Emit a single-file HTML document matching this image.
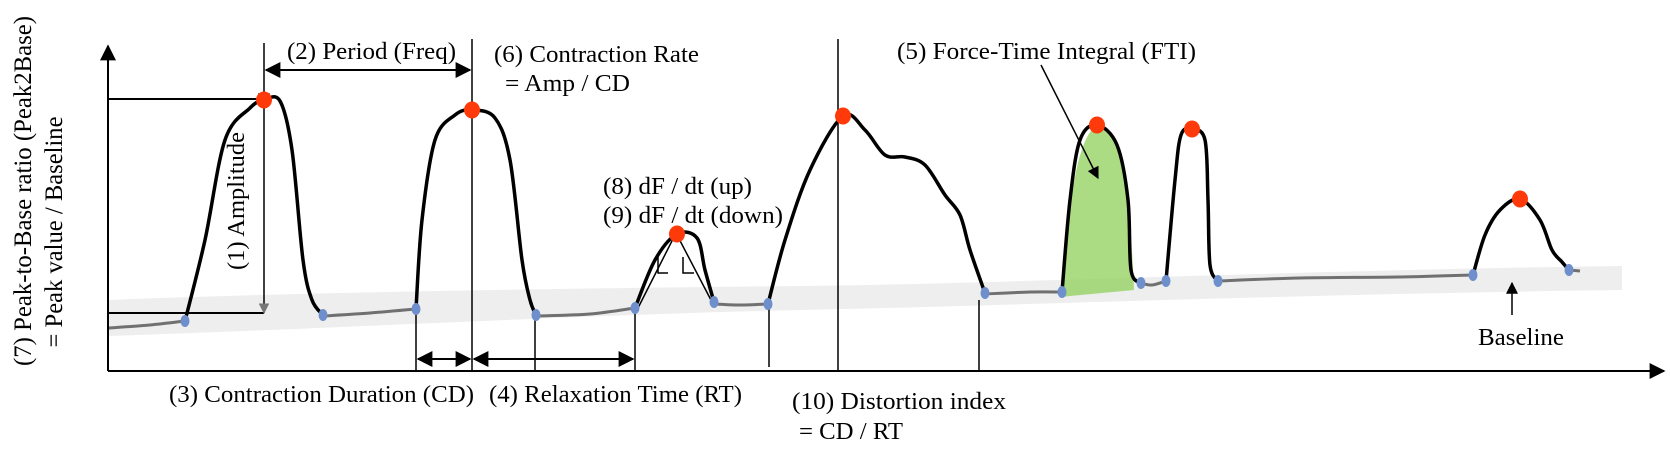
<!DOCTYPE html>
<html><head><meta charset="utf-8"><style>
html,body{margin:0;padding:0;background:#fff;}
svg{display:block;}
text{font-family:"Liberation Serif",serif;fill:#000;}
</style></head><body>
<svg id="chart" width="1670" height="460" viewBox="0 0 1670 460">
<defs>
<marker id="ah" viewBox="0 0 10 10" refX="9" refY="5" markerWidth="8" markerHeight="8" orient="auto-start-reverse"><path d="M0,0 L10,5 L0,10 z" fill="#000"/></marker>
<marker id="ahg" viewBox="0 0 10 10" refX="9" refY="5" markerWidth="7" markerHeight="7" orient="auto"><path d="M0,0 L10,5 L0,10 z" fill="#777"/></marker>
</defs>
<g id="band"></g>
<path d="M1062,297 C1068,220 1074,140 1097,125 C1125,135 1130,200 1134,290 L1070,296 Z" fill="#8fd05a" opacity="0.75"/>
<g id="trace"></g>
<line x1="108" y1="371" x2="108" y2="46" stroke="#000" stroke-width="2" marker-end="url(#ah)"/>
<line x1="108" y1="371" x2="1664" y2="371" stroke="#000" stroke-width="2" marker-end="url(#ah)"/>
<line x1="108" y1="99" x2="264" y2="99" stroke="#000" stroke-width="2"/>
<line x1="108" y1="313" x2="264" y2="313" stroke="#000" stroke-width="2"/>
<line x1="264" y1="43" x2="264" y2="104" stroke="#000" stroke-width="1.5" marker-end="url(#ah)"/>
<line x1="264" y1="100" x2="264" y2="313" stroke="#000" stroke-width="1.5" marker-end="url(#ahg)"/>
<line x1="266" y1="70" x2="470" y2="70" stroke="#000" stroke-width="2" marker-start="url(#ah)" marker-end="url(#ah)"/>
<line x1="472" y1="39" x2="472" y2="371" stroke="#000" stroke-width="1.5"/>
<line x1="416" y1="310" x2="416" y2="371" stroke="#000" stroke-width="1.5"/>
<line x1="535" y1="315" x2="535" y2="371" stroke="#000" stroke-width="1.5"/>
<line x1="635" y1="308" x2="635" y2="371" stroke="#000" stroke-width="1.5"/>
<line x1="418" y1="359" x2="470" y2="359" stroke="#000" stroke-width="2" marker-start="url(#ah)" marker-end="url(#ah)"/>
<line x1="474" y1="359" x2="633" y2="359" stroke="#000" stroke-width="2" marker-start="url(#ah)" marker-end="url(#ah)"/>
<line x1="769" y1="305" x2="769" y2="367" stroke="#000" stroke-width="1.5"/>
<line x1="838" y1="39" x2="838" y2="371" stroke="#000" stroke-width="1.5"/>
<line x1="979" y1="300" x2="979" y2="371" stroke="#000" stroke-width="1.5"/>
<line x1="1041" y1="65" x2="1098" y2="178" stroke="#000" stroke-width="1.5" marker-end="url(#ah)"/>
<line x1="1512" y1="315" x2="1512" y2="283" stroke="#000" stroke-width="1.5" marker-end="url(#ah)"/>
<g stroke="#000" stroke-width="1.5" fill="none">
<polyline points="638,308 676,233 712,302"/>
<polyline points="658,257 658,273 668,273"/>
<polyline points="683,257 683,273 694,273"/>
</g>
<g id="dots"></g>
<text transform="translate(31,191) rotate(-90)" text-anchor="middle" font-size="25" textLength="350" lengthAdjust="spacingAndGlyphs">(7) Peak-to-Base ratio (Peak2Base)</text>
<text transform="translate(62,232) rotate(-90)" text-anchor="middle" font-size="25" textLength="231" lengthAdjust="spacingAndGlyphs">= Peak value / Baseline</text>
<text transform="translate(244,201) rotate(-90)" text-anchor="middle" font-size="24" textLength="138" lengthAdjust="spacingAndGlyphs">(1) Amplitude</text>
<text x="287" y="59" font-size="24" textLength="169" lengthAdjust="spacingAndGlyphs">(2) Period (Freq)</text>
<text x="494" y="62" font-size="24" textLength="205" lengthAdjust="spacingAndGlyphs">(6) Contraction Rate</text>
<text x="505" y="91" font-size="24" textLength="125" lengthAdjust="spacingAndGlyphs">= Amp / CD</text>
<text x="603" y="194" font-size="24" textLength="149" lengthAdjust="spacingAndGlyphs">(8) dF / dt (up)</text>
<text x="603" y="223" font-size="24" textLength="180" lengthAdjust="spacingAndGlyphs">(9) dF / dt (down)</text>
<text x="169" y="402" font-size="24" textLength="305" lengthAdjust="spacingAndGlyphs">(3) Contraction Duration (CD)</text>
<text x="489" y="402" font-size="24" textLength="253" lengthAdjust="spacingAndGlyphs">(4) Relaxation Time (RT)</text>
<text x="792" y="409" font-size="24" textLength="214" lengthAdjust="spacingAndGlyphs">(10) Distortion index</text>
<text x="799" y="439" font-size="24" textLength="104" lengthAdjust="spacingAndGlyphs">= CD / RT</text>
<text x="897" y="59" font-size="24" textLength="299" lengthAdjust="spacingAndGlyphs">(5) Force-Time Integral (FTI)</text>
<text x="1478" y="345" font-size="24" textLength="86" lengthAdjust="spacingAndGlyphs">Baseline</text>
</svg>
<script>
const baseSegX = [[108,150,185],[323,370,416],[536,590,635],[714,740,768],[985,1030,1062],[1141,1152,1166],[1218,1300,1400,1473],[1569,1580]];
const baseSegY = [[328,325,321],[316,313,309],[316,314,308],[304,305,304],[294,292,292],[283,285,281],[281,278,277,275],[270,271]];
const peakSegX = [[185,205,225,250,264,280,292,303,312,323],[416,422,435,455,472,495,510,522,530,536],[635,655,677,697,705,714],[768,785,810,843,865,885,905,925,945,960,970,985],[1062,1070,1080,1097,1117,1128,1131,1141],[1166,1175,1181,1192,1205,1208,1210,1218],[1473,1485,1500,1520,1540,1552,1562,1569]];
const peakSegY = [[321,240,140,108,100,101,150,260,300,315],[309,220,140,115,110,118,160,260,300,315],[308,260,234,238,270,302],[304,240,170,116,130,155,157,165,195,215,250,293],[292,200,140,125,145,200,270,283],[281,180,135,129,140,200,265,281],[275,235,210,199,220,250,262,270]];
const redX = [264,472,677,843,1097,1192,1520];
const redY = [100,110,234,116,125,129,199];
const blueX = [185,323,416,536,635,714,768,985,1062,1141,1166,1218,1473,1569];
const blueY = [321,315,309,315,308,302,304,293,292,283,281,281,275,270];
const NS='http://www.w3.org/2000/svg';
function smooth(xs,ys){
  let d='M'+xs[0]+','+ys[0];
  for(let i=0;i<xs.length-1;i++){
    const x0=xs[Math.max(i-1,0)],y0=ys[Math.max(i-1,0)],x1=xs[i],y1=ys[i],x2=xs[i+1],y2=ys[i+1],x3=xs[Math.min(i+2,xs.length-1)],y3=ys[Math.min(i+2,xs.length-1)];
    d+=' C'+(x1+(x2-x0)/6)+','+(y1+(y2-y0)/6)+' '+(x2-(x3-x1)/6)+','+(y2-(y3-y1)/6)+' '+x2+','+y2;
  }
  return d;
}
const band=document.getElementById('band');
const bp=document.createElementNS(NS,'path');
bp.setAttribute('d','M108,300 C300,292 600,288 800,286 C1000,284 1300,270 1622,266 L1622,290 C1300,294 1000,306 800,310 C600,314 300,330 108,336 Z');
bp.setAttribute('fill','#eeeeee');


band.appendChild(bp);
const tr=document.getElementById('trace');
baseSegX.forEach((xs,i)=>{
  const p=document.createElementNS(NS,'path');
  p.setAttribute('d',smooth(xs,baseSegY[i]));
  p.setAttribute('fill','none');p.setAttribute('stroke','#707070');p.setAttribute('stroke-width','3');
  
  
  tr.appendChild(p);
});
peakSegX.forEach((xs,i)=>{
  const p=document.createElementNS(NS,'path');
  p.setAttribute('d',smooth(xs,peakSegY[i]));
  p.setAttribute('fill','none');p.setAttribute('stroke','#000');p.setAttribute('stroke-width','3.5');p.setAttribute('stroke-linejoin','round');
  
  
  tr.appendChild(p);
});
const dots=document.getElementById('dots');
blueX.forEach((x,i)=>{
  const c=document.createElementNS(NS,'ellipse');
  c.setAttribute('cx',x);c.setAttribute('cy',blueY[i]);c.setAttribute('rx',4.5);c.setAttribute('ry',6);c.setAttribute('fill','#6e8fcc');
  
  
  dots.appendChild(c);
});
redX.forEach((x,i)=>{
  const c=document.createElementNS(NS,'ellipse');
  c.setAttribute('cx',x);c.setAttribute('cy',redY[i]);c.setAttribute('rx',8);c.setAttribute('ry',8.5);c.setAttribute('fill','#ff3a0a');
  
  
  dots.appendChild(c);
});
</script>
</body></html>
